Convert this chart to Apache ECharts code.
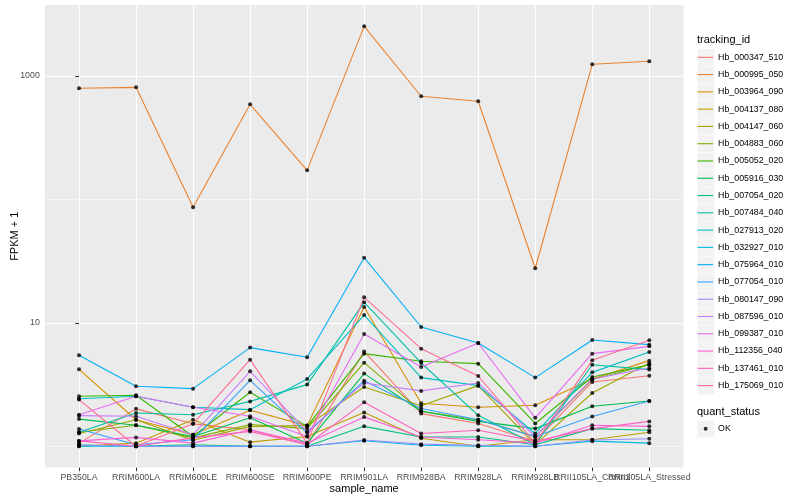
<!DOCTYPE html>
<html><head><meta charset="utf-8">
<script src="https://cdn.jsdelivr.net/npm/echarts@6/dist/echarts.min.js"></script>
<style>html,body{margin:0;padding:0;background:#fff}#c{width:800px;height:500px}</style>
</head><body><div id="c"></div>
<script>
const categories = ['PB350LA','RRIM600LA','RRIM600LE','RRIM600SE','RRIM600PE','RRIM901LA','RRIM928BA','RRIM928LA','RRIM928LB','RRII105LA_Control','RRII105LA_Stressed'];
const trackingIds = ['Hb_000347_510','Hb_000995_050','Hb_003964_090','Hb_004137_080','Hb_004147_060','Hb_004883_060','Hb_005052_020','Hb_005916_030','Hb_007054_020','Hb_007484_040','Hb_027913_020','Hb_032927_010','Hb_075964_010','Hb_077054_010','Hb_080147_090','Hb_087596_010','Hb_099387_010','Hb_112356_040','Hb_137461_010','Hb_175069_010'];
const Hb_000347_510 = [1.06, 2.01, 1.52, 1.36, 1.03, 5.87, 1.84, 1.53, 1.10, 3.32, 3.73];
const Hb_000995_050 = [795, 809, 86.5, 590, 172, 2525, 685, 624, 27.7, 1244, 1315];
const Hb_003964_090 = [4.20, 1.64, 1.24, 1.96, 1.47, 13.43, 2.23, 2.07, 2.15, 3.51, 4.94];
const Hb_004137_080 = [1.00, 1.06, 1.64, 1.08, 1.20, 1.88, 1.16, 1.00, 1.13, 1.13, 1.30];
const Hb_004147_060 = [1.27, 1.64, 1.12, 1.45, 1.47, 3.02, 2.13, 3.10, 1.03, 2.70, 4.73];
const Hb_004883_060 = [1.30, 1.48, 1.17, 1.50, 1.39, 4.76, 1.92, 1.64, 1.20, 3.47, 4.58];
const Hb_005052_020 = [2.54, 2.59, 1.20, 2.74, 1.45, 5.63, 4.88, 4.67, 1.53, 3.64, 4.58];
const Hb_005916_030 = [1.66, 1.48, 1.20, 1.70, 1.06, 3.88, 1.92, 1.59, 1.39, 2.11, 2.33];
const Hb_007054_020 = [1.025, 1.00, 1.03, 1.00, 1.00, 1.45, 1.19, 1.19, 1.03, 1.39, 1.35];
const Hb_007484_040 = [1.30, 1.86, 1.80, 2.31, 3.16, 14.66, 4.73, 1.78, 1.03, 4.58, 4.18];
const Hb_027913_020 = [2.43, 2.54, 2.07, 1.98, 3.51, 11.57, 3.60, 3.10, 1.27, 3.97, 5.80];
const Hb_032927_010 = [1.00, 1.00, 1.00, 1.00, 1.00, 1.11, 1.02, 1.00, 1.00, 1.10, 1.06];
const Hb_075964_010 = [5.46, 3.06, 2.93, 6.30, 5.26, 33.7, 9.25, 6.87, 3.60, 7.27, 6.66];
const Hb_077054_010 = [1.38, 1.03, 1.13, 3.42, 1.28, 3.40, 2.02, 1.64, 1.20, 1.74, 2.33];
const Hb_080147_090 = [1.025, 1.00, 1.00, 1.00, 1.00, 1.125, 1.04, 1.02, 1.00, 1.125, 1.15];
const Hb_087596_010 = [1.77, 1.75, 1.24, 4.05, 1.32, 3.26, 2.81, 3.26, 1.20, 3.51, 4.31];
const Hb_099387_010 = [1.80, 2.54, 2.07, 1.75, 1.20, 8.12, 4.39, 6.87, 1.70, 5.63, 6.45];
const Hb_112356_040 = [1.105, 1.18, 1.06, 1.36, 1.06, 1.73, 1.19, 1.13, 1.06, 1.48, 1.45];
const Hb_137461_010 = [1.105, 1.00, 1.17, 1.32, 1.03, 2.27, 1.27, 1.35, 1.10, 1.39, 1.59];
const Hb_175069_010 = [2.39, 1.00, 1.52, 5.03, 1.06, 16.09, 6.18, 3.71, 1.06, 4.97, 7.22];
const yLabelValues = [10, 1000];
const yMinorValues = [1, 100];
const quantStatus = ['OK'];

const seriesValues = [Hb_000347_510, Hb_000995_050, Hb_003964_090, Hb_004137_080, Hb_004147_060, Hb_004883_060, Hb_005052_020, Hb_005916_030, Hb_007054_020, Hb_007484_040, Hb_027913_020, Hb_032927_010, Hb_075964_010, Hb_077054_010, Hb_080147_090, Hb_087596_010, Hb_099387_010, Hb_112356_040, Hb_137461_010, Hb_175069_010];

const palette = ['#F8766D','#EA8331','#D89000','#C09B00','#A3A500','#7CAE00','#39B600','#00BB4E','#00BF7D','#00C1A3','#00BFC4','#00BAE0','#00B0F6','#35A2FF','#9590FF','#C77CFF','#E76BF3','#FA62DB','#FF62BC','#FF6C91'];
const FONT = '"Liberation Sans", Arial, Helvetica, sans-serif';
const catIdx = categories.map((_, i) => i);
const X_MIN = -0.6, X_MAX = 10.6;
// an empty end label at the axis max, so the min/max overlap check drops it instead of a real label
const xLabelValues = catIdx.concat([X_MAX]);

const KEY = 17.28, LEG_TOP = 48.66, LEG_LEFT = 697;
const Y_MIN = 0.673, Y_MAX = 3760;

const lineSeries = trackingIds.map((id, k) => ({
  name: id, type: 'line', data: seriesValues[k].map((v, i) => [i, v]),
  symbol: 'none', showSymbol: false, silent: true, animation: false, z: 2,
  lineStyle: { color: palette[k], width: 1.1 }, itemStyle: { color: palette[k] }
}));
const points = [];
seriesValues.forEach(arr => arr.forEach((v, i) => points.push([i, v])));
const pointSeries = {
  name: quantStatus[0], type: 'scatter', data: points, symbol: 'circle', symbolSize: 4,
  itemStyle: { color: '#000' }, z: 3, silent: true, animation: false
};

const graphics = [];
trackingIds.forEach((_, k) => graphics.push({
  type: 'rect', left: LEG_LEFT, top: LEG_TOP + KEY * k, silent: true,
  shape: { width: KEY, height: KEY }, style: { fill: '#F2F2F2', stroke: '#fff', lineWidth: 0.5 }
}));
graphics.push({ type: 'rect', left: LEG_LEFT, top: 420, silent: true,
  shape: { width: KEY, height: KEY }, style: { fill: '#F2F2F2', stroke: '#fff', lineWidth: 0.5 } });
graphics.push({ type: 'text', left: LEG_LEFT, top: 34, silent: true,
  style: { text: 'tracking_id', fontSize: 11, fill: '#000', fontFamily: FONT } });
graphics.push({ type: 'text', left: LEG_LEFT, top: 406.5, silent: true,
  style: { text: 'quant_status', fontSize: 11, fill: '#000', fontFamily: FONT } });

const chart = echarts.init(document.getElementById('c'), null, { renderer: 'canvas' });
chart.setOption({
  animation: false,
  backgroundColor: '#fff',
  textStyle: { fontFamily: FONT },
  grid: { left: 44.8, right: 116.5, top: 5, bottom: 32.5, show: true, backgroundColor: '#EBEBEB', borderWidth: 0, containLabel: false, outerBoundsMode: 'none' },
  xAxis: [{
    type: 'value', min: X_MIN, max: X_MAX,
    axisLine: { show: false },
    axisTick: { show: true, customValues: catIdx, length: 3.7, lineStyle: { color: '#333', width: 1.07 } },
    axisLabel: { customValues: xLabelValues, formatter: v => (Number.isInteger(v) ? categories[v] : ''), color: '#4D4D4D', fontSize: 8.8, margin: 5.5, fontFamily: FONT, hideOverlap: false },
    splitLine: { show: true, lineStyle: { color: '#fff', width: 1.07 } },
    name: 'sample_name', nameLocation: 'middle', nameGap: 16, nameMoveOverlap: false,
    nameTextStyle: { color: '#000', fontSize: 11, fontFamily: FONT }
  }],
  yAxis: [{
    type: 'log', logBase: 10, min: Y_MIN, max: Y_MAX,
    axisLine: { show: false },
    axisTick: { show: true, customValues: yLabelValues, length: 3.7, lineStyle: { color: '#333', width: 1.07 } },
    axisLabel: { customValues: yLabelValues, formatter: v => String(Math.round(v)), color: '#4D4D4D', fontSize: 8.8, margin: 5, fontFamily: FONT, hideOverlap: false },
    splitLine: { show: true, lineStyle: { color: '#fff', width: 1.07 } },
    name: 'FPKM + 1', nameLocation: 'middle', nameGap: 24, nameRotate: 90, nameMoveOverlap: false,
    nameTextStyle: { color: '#000', fontSize: 11, fontFamily: FONT }
  }, {
    type: 'log', logBase: 10, min: Y_MIN, max: Y_MAX, position: 'left',
    axisLine: { show: false },
    axisTick: { show: false, customValues: yMinorValues },
    axisLabel: { show: false, customValues: yMinorValues },
    splitLine: { show: true, lineStyle: { color: '#fff', width: 0.53 } }
  }],
  legend: [{
    orient: 'vertical', left: LEG_LEFT + 0.5, top: LEG_TOP, padding: 0,
    itemWidth: 15.6, itemHeight: KEY, itemGap: 0, selectedMode: false,
    icon: 'path://M0,0M0,8.09L15.6,8.09L15.6,9.19L0,9.19ZM15.6,17.28',
    itemStyle: { borderWidth: 0 },
    data: trackingIds,
    textStyle: { fontSize: 8.8, color: '#000', fontFamily: FONT }
  }, {
    orient: 'vertical', left: LEG_LEFT + 0.5, top: 420, padding: 0,
    itemWidth: 15.6, itemHeight: KEY, itemGap: 0, selectedMode: false,
    icon: 'path://M0,0M6.14,8.64A2,2 0 1 1 10.14,8.64A2,2 0 1 1 6.14,8.64ZM15.6,17.28',
    itemStyle: { borderWidth: 0 },
    data: quantStatus,
    textStyle: { fontSize: 8.8, color: '#000', fontFamily: FONT }
  }],
  graphic: graphics,
  series: lineSeries.concat([pointSeries])
});
</script></body></html>
